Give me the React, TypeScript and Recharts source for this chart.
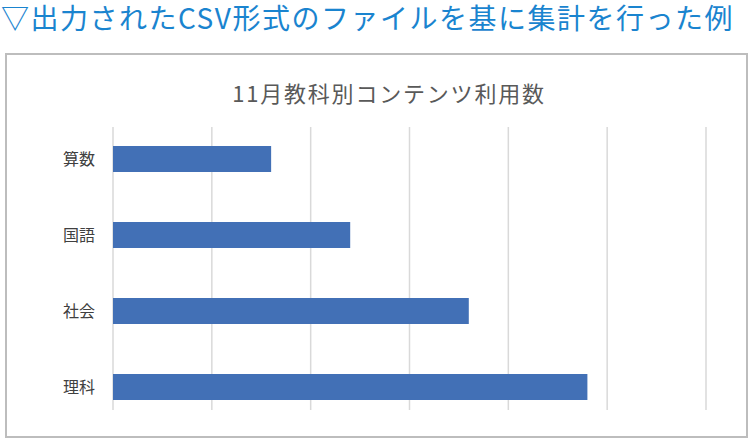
import { BarChart, Bar, XAxis, YAxis, CartesianGrid } from 'recharts';

const subjects = ['算数', '国語', '社会', '理科'];
const usage = [160, 240, 360, 480];
const xTicks = [0, 100, 200, 300, 400, 500, 600];

const data = subjects.map((name, i) => ({ name, value: usage[i] }));

const jpFont = '"Noto Sans CJK JP", "Noto Sans", sans-serif';

export default function App() {
  return (
    <div style={{ position: 'absolute', left: 0, top: 0, width: 750, height: 441, background: '#fff', fontFamily: jpFont, overflow: 'hidden' }}>
      {/* page heading */}
      <div style={{ position: 'absolute', left: 1, top: 1, width: 'max-content', fontSize: 28, lineHeight: 1.15, color: '#1a84cf', whiteSpace: 'nowrap', letterSpacing: 1.5 }}>
        ▽出力されたCSV形式のファイルを基に集計を行った例
      </div>

      {/* chart frame */}
      <div style={{ position: 'absolute', left: 5, top: 53, width: 739, height: 381, border: '2px solid #bdbdbd' }} />

      {/* chart title */}
      <div style={{ position: 'absolute', left: 0, width: 778, top: 76, textAlign: 'center', fontSize: 22, letterSpacing: 1.8, color: '#595959' }}>
        11月教科別コンテンツ利用数
      </div>

      <div style={{ position: 'absolute', left: 0, top: 0 }}>
        <BarChart
          width={750}
          height={441}
          data={data}
          layout="vertical"
          margin={{ top: 127, right: 44, bottom: 31, left: 53 }}
        >
          <CartesianGrid horizontal={false} stroke="#d9d9d9" strokeWidth={1.5} />
          <XAxis type="number" domain={[0, 600]} ticks={xTicks} hide />
          <YAxis
            type="category"
            dataKey="name"
            width={60}
            axisLine={false}
            tickLine={false}
            tickSize={0}
            tickMargin={18}
            padding={{ top: -6, bottom: -15 }}
            tick={{ fill: '#404040', fontSize: 16, fontFamily: jpFont }}
          />
          <Bar dataKey="value" fill="#4270b6" barSize={26} isAnimationActive={false} />
        </BarChart>
      </div>
    </div>
  );
}
